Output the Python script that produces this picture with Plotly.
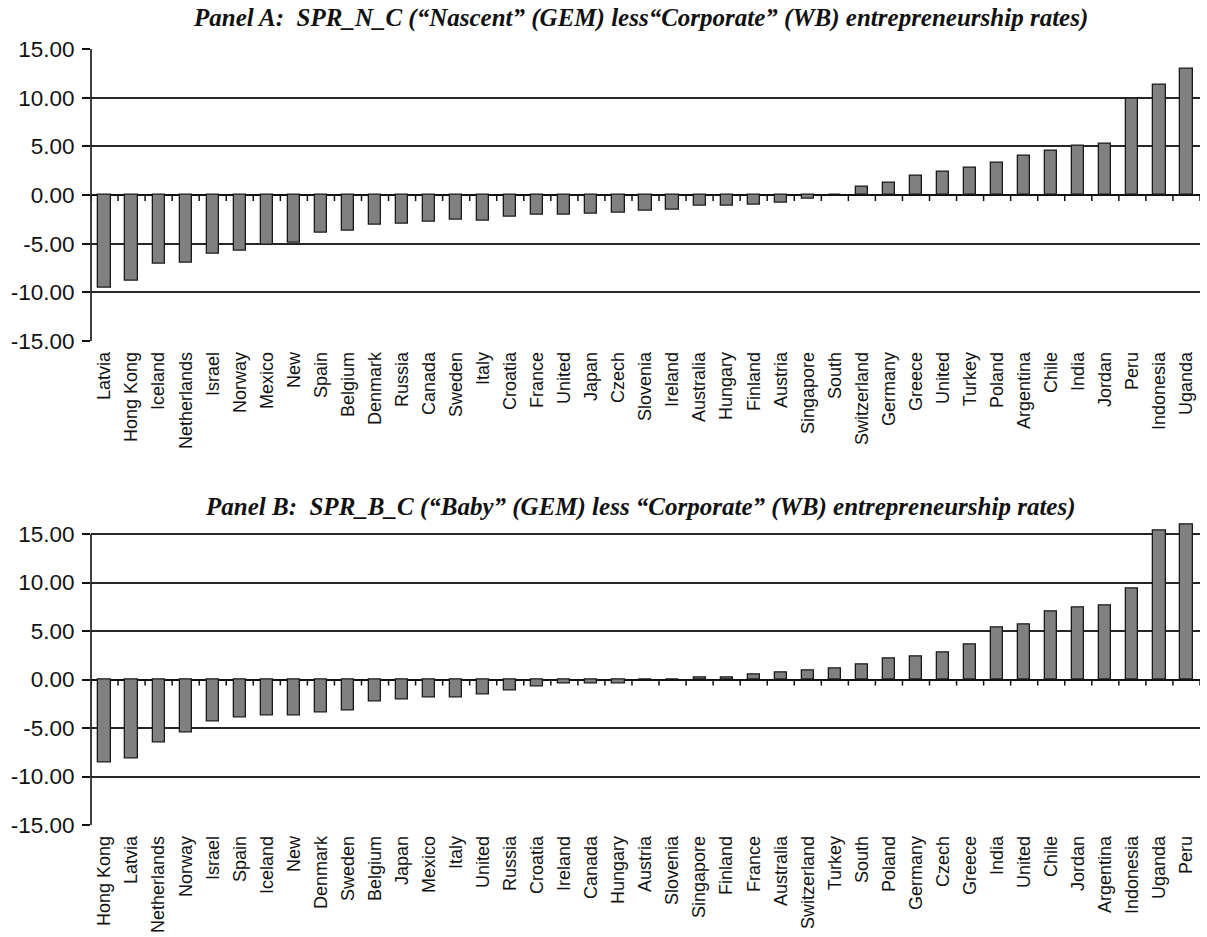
import numpy as np
import plotly.graph_objects as go

# Panel A: nascent (GEM) minus corporate (WB) entrepreneurship rates
countries_a = ["Latvia", "Hong Kong", "Iceland", "Netherlands", "Israel", "Norway", "Mexico",
               "New", "Spain", "Belgium", "Denmark", "Russia", "Canada", "Sweden", "Italy",
               "Croatia", "France", "United", "Japan", "Czech", "Slovenia", "Ireland",
               "Australia", "Hungary", "Finland", "Austria", "Singapore", "South",
               "Switzerland", "Germany", "Greece", "United", "Turkey", "Poland", "Argentina",
               "Chile", "India", "Jordan", "Peru", "Indonesia", "Uganda"]
spr_n_c = [-9.5, -8.8, -7.1, -7.0, -6.0, -5.7, -5.1, -4.95, -3.9, -3.7, -3.1, -2.95, -2.75,
           -2.55, -2.6, -2.2, -2.05, -2.0, -1.9, -1.85, -1.65, -1.5, -1.1, -1.1, -0.95,
           -0.75, -0.35, 0.0, 0.9, 1.3, 2.0, 2.4, 2.8, 3.3, 4.0, 4.55, 5.1, 5.3, 9.9,
           11.3, 13.0]

# Panel B: baby (GEM) minus corporate (WB) entrepreneurship rates
countries_b = ["Hong Kong", "Latvia", "Netherlands", "Norway", "Israel", "Spain", "Iceland",
               "New", "Denmark", "Sweden", "Belgium", "Japan", "Mexico", "Italy", "United",
               "Russia", "Croatia", "Ireland", "Canada", "Hungary", "Austria", "Slovenia",
               "Singapore", "Finland", "France", "Australia", "Switzerland", "Turkey", "South",
               "Poland", "Germany", "Czech", "Greece", "India", "United", "Chile", "Jordan",
               "Argentina", "Indonesia", "Uganda", "Peru"]
spr_b_c = [-8.6, -8.1, -6.5, -5.5, -4.3, -3.9, -3.7, -3.7, -3.35, -3.2, -2.25, -2.05, -1.9,
           -1.9, -1.5, -1.1, -0.75, -0.4, -0.4, -0.4, 0.0, 0.0, 0.2, 0.2, 0.55, 0.75, 0.95,
           1.1, 1.6, 2.2, 2.35, 2.75, 3.65, 5.4, 5.65, 7.05, 7.45, 7.65, 9.4, 15.4, 16.0]

y_ticks = [-15, -10, -5, 0, 5, 10, 15]
y_tick_labels = [f"{v:.2f}" for v in y_ticks]

title_a = "Panel A:  SPR_N_C (\u201cNascent\u201d (GEM) less\u201cCorporate\u201d (WB) entrepreneurship rates)"
title_b = "Panel B:  SPR_B_C (\u201cBaby\u201d (GEM) less \u201cCorporate\u201d (WB) entrepreneurship rates)"

W, H = 1207, 937
X_DOM = [91 / W, 1200 / W]
FRAME = [-15, 15]          # value span framed by the axis line and gridlines
EDGE = 0.03                # small pad so the outer gridlines are kept
TICK_PX = 6                # length of the category ticks hanging from the zero line
# panel frames (pixel rows of the 15 and -15 lines) and the top of the data range
PANEL_A = dict(rows=(49, 341), data_top=15 + EDGE)
PANEL_B = dict(rows=(534, 825), data_top=16.5)

AX_FONT = dict(family="Liberation Sans, Arial, sans-serif", size=22.5, color="#111")
LBL_FONT = dict(family="Liberation Sans, Arial, sans-serif", size=18, color="#111")
TITLE_FONT = dict(family="Liberation Serif, Times New Roman, serif", size=25, color="#111")
GRID = "#262626"
INK = "#111"

fig = go.Figure()

panels = [
    (countries_a, spr_n_c, PANEL_A, ("x", "y")),
    (countries_b, spr_b_c, PANEL_B, ("x2", "y2")),
]


def axis_key(ref):
    return ref[0] + "axis" + ref[1:]


layout = dict(
    width=W, height=H, margin=dict(l=0, r=0, t=0, b=0),
    paper_bgcolor="white", plot_bgcolor="white", bargap=0,
)
shapes = []

for names, vals, pnl, (xa, ya) in panels:
    n = len(names)
    top_row, bot_row = pnl["rows"]
    f0, f1 = 1 - bot_row / H, 1 - top_row / H
    px_per_unit = (bot_row - top_row) / (FRAME[1] - FRAME[0])
    per_unit = (f1 - f0) / (FRAME[1] - FRAME[0])
    data_range = [FRAME[0] - EDGE, pnl["data_top"]]
    data_dom = [f0 - EDGE * per_unit, f0 + (data_range[1] - FRAME[0]) * per_unit]

    pos = np.arange(n)
    fig.add_trace(go.Bar(
        x=pos, y=vals, xaxis=xa, yaxis=ya, width=0.45,
        marker=dict(color="#808080", line=dict(color="#1a1a1a", width=1.3)),
        showlegend=False, hoverinfo="skip",
    ))
    # category boundary ticks hanging below the zero line (one segment per boundary)
    bounds = np.arange(n + 1) - 0.5
    tick_len = TICK_PX / px_per_unit
    seg_x, seg_y = [], []
    for b in bounds:
        seg_x += [b, b, None]
        seg_y += [0, -tick_len, None]
    fig.add_trace(go.Scatter(
        x=seg_x, y=seg_y, xaxis=xa, yaxis=ya, mode="lines",
        line=dict(color=INK, width=1.5), showlegend=False, hoverinfo="skip",
        cliponaxis=False, connectgaps=False,
    ))

    layout[axis_key(xa)] = dict(
        domain=X_DOM, anchor=ya, range=[-0.5, n - 0.5],
        tickmode="array", tickvals=list(range(n)), ticktext=names,
        tickangle=-90, tickfont=LBL_FONT, ticks="", showline=False,
        showgrid=False, zeroline=False, automargin=False, ticklabelstandoff=6,
    )
    layout[axis_key(ya)] = dict(
        domain=data_dom, anchor=xa, range=data_range,
        tickmode="array", tickvals=y_ticks, ticktext=y_tick_labels,
        tickfont=AX_FONT, ticks="outside", ticklen=8, tickwidth=1.5, tickcolor=INK,
        showline=False, showgrid=True, gridcolor=GRID, gridwidth=1.7,
        zeroline=True, zerolinecolor=INK, zerolinewidth=1.9,
        automargin=False, ticklabelstandoff=3,
    )
    # left axis line spanning the framed value range only
    shapes.append(dict(
        type="line", xref=f"{xa} domain", yref=ya, x0=0, x1=0, y0=FRAME[0], y1=FRAME[1],
        line=dict(color=INK, width=1.6), layer="above",
    ))

layout["shapes"] = shapes
layout["annotations"] = [
    dict(text=f"<b><i>{title_a}</i></b>", x=640 / W, y=1 - 18 / H, xref="paper", yref="paper",
         showarrow=False, font=TITLE_FONT, xanchor="center", yanchor="middle"),
    dict(text=f"<b><i>{title_b}</i></b>", x=640 / W, y=1 - 507 / H, xref="paper", yref="paper",
         showarrow=False, font=TITLE_FONT, xanchor="center", yanchor="middle"),
]

fig.update_layout(**layout)
fig.write_html("out.html")
